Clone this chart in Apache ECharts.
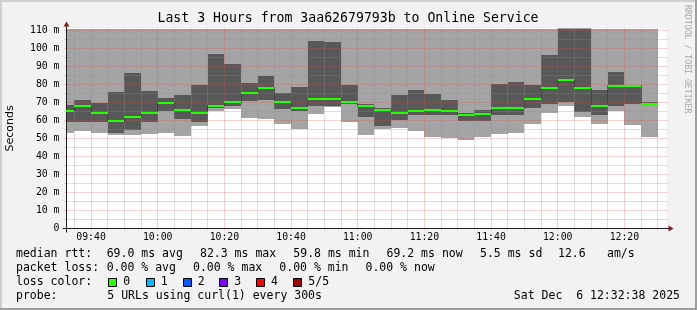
<!DOCTYPE html>
<html><head><meta charset="utf-8">
<script src="https://cdn.jsdelivr.net/npm/echarts@6/dist/echarts.min.js"></script>
<style>html,body{margin:0;padding:0;background:#f2f2f2}#c{width:697px;height:310px}</style>
</head><body><div id="c"></div>
<script>
// ---- data ----
const times = ['09:30','09:35','09:40','09:45','09:50','09:55','10:00','10:05','10:10','10:15','10:20','10:25','10:30','10:35','10:40','10:45','10:50','10:55','11:00','11:05','11:10','11:15','11:20','11:25','11:30','11:35','11:40','11:45','11:50','11:55','12:00','12:05','12:10','12:15','12:20','12:25'];
// lowest ping (top of white area)
const pingMin = [53.3,53.9,53.3,51.7,52.2,52.6,53.3,51.5,57.1,65.0,66.3,61.5,60.8,58.2,55.2,63.7,67.6,59.3,52.1,55.3,55.8,54.4,50.6,50.0,49.3,50.8,52.6,53.3,58.2,64.3,67.8,61.7,58.2,65.4,57.6,51.1];
// second ping (bottom of dark smoke)
const pingLow = [59.4,59.3,58.9,53.0,54.8,58.9,65.0,60.8,58.9,67.1,68.2,70.9,71.5,66.5,65.4,67.8,68.0,69.4,62.1,57.1,60.4,63.0,63.2,62.8,59.8,59.8,63.2,63.2,67.1,69.4,70.0,64.8,63.3,68.2,69.4,68.5];
// median rtt
const median = [65.4,67.8,63.9,59.8,62.1,64.3,69.8,66.1,64.3,68.3,70.0,75.4,78.3,70.4,67.2,71.7,72.2,70.4,67.8,66.1,64.3,65.0,66.1,65.0,63.2,63.7,66.7,66.7,72.2,77.8,82.3,77.8,67.8,79.4,79.4,69.2];
// fourth ping (top of dark smoke)
const pingHigh = [68.7,71.5,69.8,75.9,86.5,76.5,72.6,74.3,79.8,97.1,91.5,80.8,84.8,75.4,78.7,104.3,103.7,79.8,69.1,66.9,74.3,77.1,74.8,71.5,64.1,65.9,80.3,81.5,79.8,96.5,125,125,77.1,87.2,79.6,70.1];
// tick labels
const xTickLabels = ['09:40','10:00','10:20','10:40','11:00','11:20','11:40','12:00','12:20'];
const yTickValues = [0,10,20,30,40,50,60,70,80,90,100,110];
const yTickLabels = ['0','10 m','20 m','30 m','40 m','50 m','60 m','70 m','80 m','90 m','100 m','110 m'];
const lossColors = ['#26ff00','#00b8ff','#0059ff','#7e00ff','#ff0000','#a00000'];
const lossLabels = ['0','1','2','3','4','5/5'];

// ---- settings ----
const toMin = s => { const p = s.split(':').map(Number); return p[0]*60 + p[1] + (p[2]||0)/60; };
const fmt = v => { const h = Math.floor(v/60), m = Math.round(v - h*60); return String(h).padStart(2,'0')+':'+String(m).padStart(2,'0'); };
const X_MIN = toMin('09:32:38'), X_MAX = toMin('12:32:38');
const STEP = 5, Y_MAX = 111.1;
const LIGHT = '#a4a4a4', DARK = '#585858';
const GRID = 'rgba(143,143,143,0.6)', MGRID = 'rgba(222,79,79,0.5)';
const MONO = '"DejaVu Sans Mono", monospace';

const smokeData = times.map((s,i)=>[toMin(s), pingMin[i], pingLow[i], median[i], pingHigh[i]]);
const connData = times.slice(1).map((s,i)=>[toMin(s), median[i], median[i+1]]);
const medData = times.map((s,i)=>[toMin(s), median[i]]);

const R = v => Math.round(v);
const C = v => Math.round(v - 0.5) + 0.5;

function renderSmoke(params, api){
  const t = api.value(0);
  const a = api.coord([t, api.value(1)]), b = api.coord([t+STEP, Y_MAX]);
  const c = api.coord([t, api.value(4)]), d = api.coord([t+STEP, api.value(2)]);
  const x0 = R(a[0]), x1 = R(b[0]);
  return {type:'group', children:[
    {type:'rect', shape:{x:x0, y:R(b[1]), width:x1-x0, height:R(a[1])-R(b[1])}, style:{fill:LIGHT}},
    {type:'rect', shape:{x:x0, y:R(c[1]), width:x1-x0, height:R(d[1])-R(c[1])}, style:{fill:DARK}}
  ]};
}
function renderConn(params, api){
  const t = api.value(0);
  const a = api.coord([t, api.value(1)]), b = api.coord([t, api.value(2)]);
  const x = C(a[0]);
  return {type:'line', shape:{x1:x, y1:a[1], x2:x, y2:b[1]}, style:{stroke:'#202020', lineWidth:1, lineDash:[1,1]}};
}
function renderMed(params, api){
  const t = api.value(0);
  const a = api.coord([t, api.value(1)]), b = api.coord([t+STEP, api.value(1)]);
  const y = R(a[1]);
  return {type:'line', shape:{x1:R(a[0]), y1:y, x2:R(b[0]), y2:y}, style:{stroke:lossColors[0], lineWidth:2}};
}
function renderGrid(params, api){
  const cs = params.coordSys;
  const left = cs.x, right = cs.x + cs.width, top = cs.y, bottom = cs.y + cs.height;
  const ch = [];
  for (let v = 5; v < Y_MAX; v += 5){
    const y = C(api.coord([X_MIN, v])[1]);
    ch.push({type:'line', shape:{x1:C(left)-2, y1:y, x2:C(right)+2, y2:y}, style:{stroke: v%10===0?MGRID:GRID, lineWidth:1, lineDash:[1,1]}});
  }
  for (let t = Math.ceil(X_MIN/5)*5; t < X_MAX; t += 5){
    const x = C(api.coord([t, 0])[0]);
    ch.push({type:'line', shape:{x1:x, y1:C(top), x2:x, y2:C(bottom)+2}, style:{stroke: t%20===0?MGRID:GRID, lineWidth:1, lineDash:[1,1]}});
  }
  const xl = C(left), yb = C(bottom), xr = C(right), yt = C(top);
  ch.push({type:'line', shape:{x1:xl-4, y1:yb, x2:xr+4, y2:yb}, style:{stroke:'#1f1f1f', lineWidth:1}});
  ch.push({type:'line', shape:{x1:xl, y1:yb+4, x2:xl, y2:yt-4}, style:{stroke:'#1f1f1f', lineWidth:1}});
  ch.push({type:'polygon', shape:{points:[[xr+2,yb-3],[xr+2,yb+3],[xr+7,yb]]}, style:{fill:'#801f1f'}});
  ch.push({type:'polygon', shape:{points:[[xl-3,yt-2],[xl+3,yt-2],[xl,yt-7]]}, style:{fill:'#801f1f'}});
  return {type:'group', children:ch};
}

function txt(text, x, y, size, opts){
  opts = opts || {};
  const al = opts.align || 'left';
  return Object.assign({type:'text', x:x, y:y, silent:true, style:{text:text, font: size+'px '+(opts.family||MONO), fill: opts.fill||'#000',
    align:al, textAlign:al, verticalAlign:'middle', textVerticalAlign:'middle'}}, opts.rotation!==undefined?{rotation:opts.rotation}:{});
}

const graphics = [
  {type:'rect', shape:{x:0,y:0,width:697,height:2}, style:{fill:'#cfcfcf'}, silent:true},
  {type:'rect', shape:{x:0,y:0,width:2,height:310}, style:{fill:'#cfcfcf'}, silent:true},
  {type:'rect', shape:{x:0,y:308,width:697,height:2}, style:{fill:'#9e9e9e'}, silent:true},
  {type:'rect', shape:{x:695,y:0,width:2,height:310}, style:{fill:'#9e9e9e'}, silent:true},
  txt('Last 3 Hours from 3aa62679793b to Online Service', 348, 19, 13.2, {align:'center'}),
  txt('Seconds', 10.5, 128.5, 11, {align:'center', rotation:Math.PI/2, family:'"DejaVu Sans", sans-serif'}),
  txt('RRDTOOL / TOBI OETIKER', 687.5, 5, 8.2, {rotation:-Math.PI/2, fill:'#a8a8a8'}),
  // line 1
  txt('median rtt:', 16, 254.3, 11.5),
  txt('69.0 ms avg', 106.7, 254.3, 11.5),
  txt('82.3 ms max', 200, 254.3, 11.5),
  txt('59.8 ms min', 293.3, 254.3, 11.5),
  txt('69.2 ms now', 386.5, 254.3, 11.5),
  txt('5.5 ms sd', 480, 254.3, 11.5),
  txt('12.6', 558, 254.3, 11.5),
  txt('am/s', 607, 254.3, 11.5),
  // line 2
  txt('packet loss:', 16, 268.4, 11.5),
  txt('0.00 % avg', 106.7, 268.4, 11.5),
  txt('0.00 % max', 193, 268.4, 11.5),
  txt('0.00 % min', 279.3, 268.4, 11.5),
  txt('0.00 % now', 365.5, 268.4, 11.5),
  // line 3
  txt('loss color:', 16, 282.5, 11.5),
  // line 4
  txt('probe:', 16, 296.4, 11.5),
  txt('5 URLs using curl(1) every 300s', 107.3, 296.4, 11.5),
  txt('Sat Dec  6 12:32:38 2025', 680, 296.4, 11.5, {align:'right'})
];
const boxX = [108.3,145.7,182.7,219.3,256,293.3];
lossLabels.forEach((l,i)=>{
  graphics.push({type:'rect', shape:{x:Math.round(boxX[i])+0.5, y:278.5, width:8, height:8}, style:{fill:lossColors[i], stroke:'#000', lineWidth:1}, silent:true});
  graphics.push(txt(l, boxX[i]+15, 282.5, 11.5));
});

const chart = echarts.init(document.getElementById('c'), null, {renderer:'canvas'});
chart.setOption({
  animation:false,
  backgroundColor:'#f2f2f2',
  grid:{left:66.5, top:28.5, width:600, height:200, show:true, backgroundColor:'#ffffff', borderWidth:0, containLabel:false},
  xAxis:{type:'value', min:X_MIN, max:X_MAX, axisLine:{show:false}, axisTick:{show:false}, splitLine:{show:false},
    axisLabel:{customValues: xTickLabels.map(toMin), formatter: v => fmt(v), margin:4, fontFamily:MONO, fontSize:9.8, color:'#000'}},
  yAxis:{type:'value', min:0, max:Y_MAX, axisLine:{show:false}, axisTick:{show:false}, splitLine:{show:false},
    axisLabel:{customValues: yTickValues, formatter: v => { const i = yTickValues.indexOf(Math.round(v)); return i<0?'':yTickLabels[i]; }, margin:7, fontFamily:MONO, fontSize:9.8, color:'#000'}},
  graphic:{elements:graphics},
  series:[
    {type:'custom', name:'smoke', data:smokeData, encode:{x:0, y:[1,2,3,4]}, renderItem:renderSmoke, clip:true, silent:true, z:2},
    {type:'custom', name:'grid', data:[[X_MIN,0]], encode:{x:0,y:1}, renderItem:renderGrid, clip:false, silent:true, z:3},
    {type:'custom', name:'median link', data:connData, encode:{x:0, y:[1,2]}, renderItem:renderConn, clip:true, silent:true, z:4},
    {type:'custom', name:'median rtt', data:medData, encode:{x:0, y:1}, renderItem:renderMed, clip:true, silent:true, z:5}
  ]
});
</script></body></html>
